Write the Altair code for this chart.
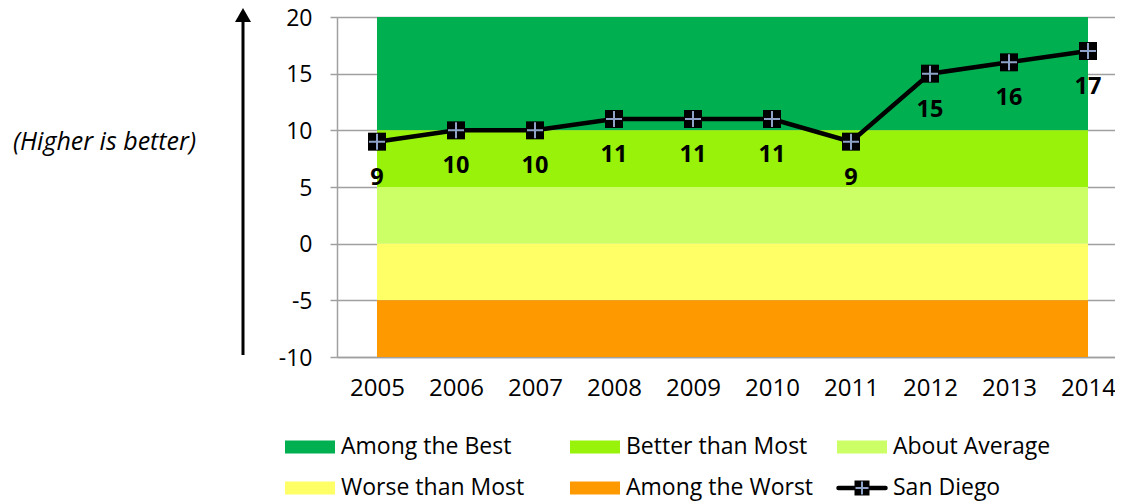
import altair as alt
import pandas as pd

# ---- data ----
years = [2005, 2006, 2007, 2008, 2009, 2010, 2011, 2012, 2013, 2014]
values = [9, 10, 10, 11, 11, 11, 9, 15, 16, 17]
series_name = "San Diego"

band_names = ["Among the Best", "Better than Most", "About Average",
              "Worse than Most", "Among the Worst"]
band_low = [10, 5, 0, -5, -10]
band_high = [20, 10, 5, 0, -5]
band_colors = ["#00b050", "#99f20a", "#ccff66", "#ffff66", "#ff9900"]

y_ticks = [-10, -5, 0, 5, 10, 15, 20]
y_title = "(Higher is better)"

# ---- tables ----
line_df = pd.DataFrame({"year": years, "value": values})
bands_df = pd.DataFrame({
    "name": band_names, "low": band_low, "high": band_high,
    "x0": [years[0]] * len(band_names), "x1": [years[-1]] * len(band_names),
})
legend_names = band_names + [series_name]
legend_df = pd.DataFrame({
    "name": legend_names,
    "kind": ["band"] * len(band_names) + ["line"],
    "col": [i % 3 for i in range(len(legend_names))],
    "row": [i // 3 for i in range(len(legend_names))],
})

FONT = "Open Sans"
GREY = "#a0a0a0"
CROSS = "#8fa2c7"
W, H = 778, 340
PX_PER_YEAR = 79.0
x_start = years[0] - 40 / PX_PER_YEAR
x_end = x_start + W / PX_PER_YEAR

xscale = alt.Scale(domain=[x_start, x_end], nice=False, zero=False)
yscale = alt.Scale(domain=[y_ticks[0], y_ticks[-1]], nice=False, zero=False)

xaxis = alt.Axis(values=years, format="d", ticks=False, grid=False,
                 labelFontSize=24, labelPadding=19, labelColor="black",
                 labelFont=FONT, domainColor=GREY, domainWidth=1.5,
                 title=None)
yaxis = alt.Axis(values=y_ticks, grid=True, gridColor=GREY, gridWidth=1.5,
                 tickSize=7, tickColor=GREY, tickWidth=1.5,
                 domainColor=GREY, domainWidth=1.5,
                 labelExpr="'' + datum.value",
                 labelFontSize=23, labelPadding=18, labelColor="black",
                 labelFont=FONT, labelOffset=1,
                 title=y_title, titleAngle=0, titleFontStyle="italic",
                 titleFontWeight="normal", titleFontSize=25, titleFont=FONT,
                 titleColor="black", titleX=-233, titleY=124,
                 titleAlign="center", titleBaseline="middle")


def X(field):
    return alt.X(field, type="quantitative", scale=xscale, axis=xaxis)


def Y(field):
    return alt.Y(field, type="quantitative", scale=yscale, axis=yaxis)


color_scale = alt.Scale(domain=band_names, range=band_colors)

bands = alt.Chart(bands_df).mark_rect().encode(
    x=X("x0"), x2="x1", y=Y("low"), y2="high",
    color=alt.Color("name:N", scale=color_scale, legend=None),
)

line = alt.Chart(line_df).mark_line(color="black", strokeWidth=4.5).encode(
    x=X("year"), y=Y("value"))

squares = alt.Chart(line_df).mark_square(
    size=324, color="black", opacity=1, filled=True).encode(
    x=X("year"), y=Y("value"))

CROSS_PATH = "M-1,0H1M0,-1V1"
crosses = alt.Chart(line_df).mark_point(
    shape=CROSS_PATH, filled=False, size=256, strokeWidth=2,
    color=CROSS, opacity=1).encode(x=X("year"), y=Y("value"))

labels = alt.Chart(line_df).mark_text(
    dy=36, fontSize=23.5, fontWeight="bold", font=FONT, color="black").encode(
    x=X("year"), y=Y("value"), text="value:Q")

one = pd.DataFrame({"k": [0]})
arrow_line = alt.Chart(one).mark_rule(color="black", strokeWidth=3).encode(
    x=alt.value(-94), y=alt.value(5), y2=alt.value(338))
arrow_head = alt.Chart(one).mark_point(
    shape="M0,-0.875L1,0.875L-1,0.875Z", filled=True, size=256,
    color="black", opacity=1).encode(x=alt.value(-94), y=alt.value(-2))

main = alt.layer(bands, line, squares, crosses, labels, arrow_line, arrow_head)

# ---- legend ----
lx = alt.X("col:Q", scale=alt.Scale(domain=[0, 1, 2], range=[-27, 258, 525]),
           axis=None)
ly = alt.Y("row:Q", scale=alt.Scale(domain=[0, 1], range=[430, 471]),
           axis=None)

RECT_PATH = "M-1,-0.26H1V0.26H-1Z"
swatches = alt.Chart(legend_df).transform_filter(
    alt.datum.kind == "band").mark_point(
    shape=RECT_PATH, filled=True, size=2500, opacity=1).encode(
    x=lx, y=ly, color=alt.Color("name:N", scale=color_scale, legend=None))

sd_line = alt.Chart(legend_df).transform_filter(
    alt.datum.kind == "line").mark_point(
    shape="M-1,0H1", filled=False, size=2209, strokeWidth=4.5,
    strokeCap="round", color="black", opacity=1).encode(x=lx, y=ly)

sd_square = alt.Chart(legend_df).transform_filter(
    alt.datum.kind == "line").mark_square(
    size=225, color="black", opacity=1, filled=True).encode(x=lx, y=ly)

sd_cross = alt.Chart(legend_df).transform_filter(
    alt.datum.kind == "line").mark_point(
    shape=CROSS_PATH, filled=False, size=169, strokeWidth=2,
    color=CROSS, opacity=1).encode(x=lx, y=ly)

legend_text = alt.Chart(legend_df).mark_text(
    align="left", baseline="middle", dx=31, fontSize=23, font=FONT,
    color="black").encode(x=lx, y=ly, text="name:N")

legend = alt.layer(swatches, sd_line, sd_square, sd_cross, legend_text)

chart = alt.layer(main, legend).resolve_scale(
    x="independent", y="independent"
).properties(
    width=W, height=H,
    autosize=alt.AutoSizeParams(type="none"),
    padding={"left": 329, "top": 9, "right": 0, "bottom": 147},
).configure_view(stroke=None).configure(font=FONT)

chart.save("out.html", embed_options={"renderer": "svg", "actions": False})
